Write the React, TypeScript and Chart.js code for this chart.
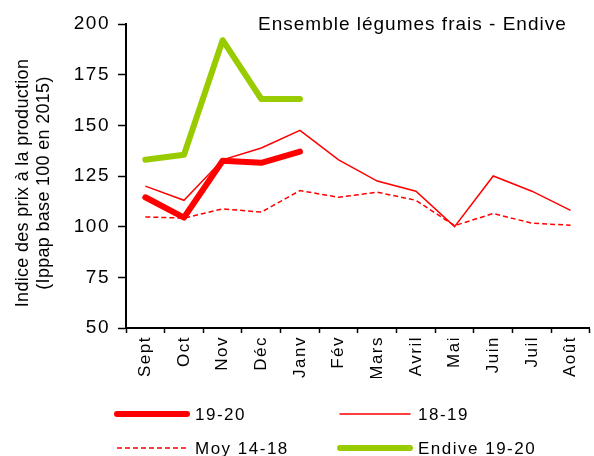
import React, { useEffect, useRef } from "react";
import { Chart, registerables } from "chart.js";

Chart.register(...registerables);

const categories = ["Sept", "Oct", "Nov", "Déc", "Janv", "Fév", "Mars", "Avril", "Mai", "Juin", "Juil", "Août"];
const values1920 = [114.5, 104.5, 132.5, 131.5, 137, null, null, null, null, null, null, null];
const values1819 = [120, 113, 133, 138.8, 147.5, 133, 122.5, 117.5, 100, 125, 117.5, 108];
const valuesMoy = [104.8, 104.2, 108.8, 107.2, 117.8, 114.5, 117, 113, 100.5, 106.5, 101.7, 100.7];
const valuesEndive = [133, 135.5, 192, 163, 163, null, null, null, null, null, null, null];
const titleText = "Ensemble légumes frais - Endive";
const yTitleLines = ["Indice des prix à la production", "(Ippap base 100 en 2015)"];
const yMin = 50;
const yMax = 200;
const yStep = 25;

const FONT = "'Liberation Sans', Arial, sans-serif";
const RED = "#ff0000";
const GREEN = "#99cc00";

const customPlugin = {
  id: "custom",
  beforeDraw(chart: any) {
    chart.ctx.letterSpacing = "1.5px";
  },
  afterDraw(chart: any) {
    const ctx = chart.ctx;
    const area = chart.chartArea;
    ctx.save();
    // title
    ctx.fillStyle = "#000";
    ctx.font = `19px ${FONT}`;
    ctx.letterSpacing = "1px";
    ctx.textAlign = "left";
    ctx.textBaseline = "alphabetic";
    ctx.fillText(titleText, 258, 30);
    // y title
    ctx.font = `18px ${FONT}`;
    ctx.letterSpacing = "0.3px";
    ctx.textAlign = "center";
    ctx.textBaseline = "middle";
    const cy = (area.top + area.bottom) / 2 + 7;
    yTitleLines.forEach((line, i) => {
      ctx.save();
      ctx.translate(23 + i * 21, cy);
      ctx.rotate(-Math.PI / 2);
      ctx.fillText(line, 0, 0);
      ctx.restore();
    });
    // legend
    const order = [2, 1, 0, 3];
    const cols = [117, 340];
    const rows = [414, 448];
    ctx.font = `17px ${FONT}`;
    ctx.letterSpacing = "1.5px";
    ctx.textAlign = "left";
    order.forEach((di, k) => {
      const ds = chart.data.datasets[di];
      const x = cols[k % 2];
      const y = rows[Math.floor(k / 2)];
      ctx.save();
      ctx.strokeStyle = ds.borderColor;
      ctx.lineWidth = ds.borderWidth;
      ctx.lineCap = ds.borderDash && ds.borderDash.length ? "butt" : "round";
      ctx.setLineDash(ds.borderDash || []);
      ctx.beginPath();
      ctx.moveTo(x, y);
      ctx.lineTo(x + 70, y);
      ctx.stroke();
      ctx.restore();
      ctx.fillStyle = "#000";
      ctx.textBaseline = "middle";
      ctx.fillText(ds.label, x + 78, y + 1);
    });
    ctx.restore();
  },
};

export default function App() {
  const ref = useRef<HTMLCanvasElement>(null);
  useEffect(() => {
    if (!ref.current) return;
    const chart = new Chart(ref.current, {
      type: "line",
      data: {
        labels: categories,
        datasets: [
          {
            label: "Moy 14-18",
            data: valuesMoy,
            borderColor: RED,
            borderWidth: 1.5,
            borderDash: [5, 3],
            pointRadius: 0,
            tension: 0,
            order: 4,
          },
          {
            label: "18-19",
            data: values1819,
            borderColor: RED,
            borderWidth: 1.5,
            pointRadius: 0,
            tension: 0,
            order: 3,
          },
          {
            label: "19-20",
            data: values1920,
            borderColor: RED,
            borderWidth: 6,
            borderCapStyle: "round",
            borderJoinStyle: "round",
            pointRadius: 0,
            tension: 0,
            order: 2,
          },
          {
            label: "Endive 19-20",
            data: valuesEndive,
            borderColor: GREEN,
            borderWidth: 6,
            borderCapStyle: "round",
            borderJoinStyle: "round",
            pointRadius: 0,
            tension: 0,
            order: 1,
          },
        ],
      } as any,
      options: {
        responsive: false,
        animation: false,
        layout: { padding: { left: 0, right: 1, top: 24, bottom: 78 } },
        plugins: { legend: { display: false }, tooltip: { enabled: false }, title: { display: false } },
        scales: {
          x: {
            offset: true,
            afterFit: (s: any) => {
              s.height = 50;
            },
            grid: {
              display: true,
              drawOnChartArea: false,
              drawTicks: true,
              tickLength: 5,
              tickWidth: 1.5,
              tickColor: "#000",
              offset: true,
            },
            border: { display: true, color: "#000", width: 2 },
            ticks: {
              autoSkip: false,
              minRotation: 90,
              maxRotation: 90,
              padding: 3,
              color: "#000",
              font: { family: FONT, size: 17 },
            },
          },
          y: {
            min: yMin,
            max: yMax,
            afterFit: (s: any) => {
              s.width = 126;
            },
            grid: {
              display: true,
              drawOnChartArea: false,
              drawTicks: true,
              tickLength: 8,
              tickWidth: 1.5,
              tickColor: "#000",
            },
            border: { display: true, color: "#000", width: 2 },
            ticks: {
              stepSize: yStep,
              padding: 8,
              color: "#000",
              font: { family: FONT, size: 19 },
            },
          },
        },
      },
      plugins: [customPlugin],
    });
    return () => chart.destroy();
  }, []);
  return (
    <div style={{ position: "fixed", left: 0, top: 0, width: 594, height: 456, background: "#fff" }}>
      <canvas ref={ref} width={594} height={456} style={{ width: 594, height: 456, display: "block" }} />
    </div>
  );
}
